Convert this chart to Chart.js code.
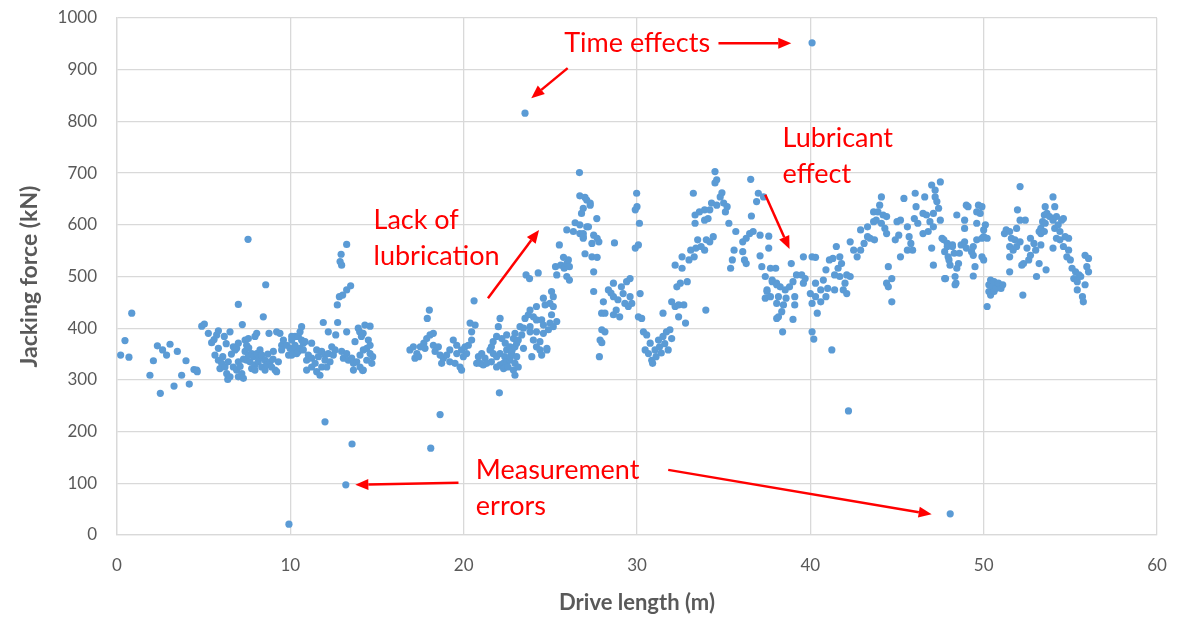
<!DOCTYPE html>
<html>
<head>
<meta charset="utf-8">
<script src="https://cdn.jsdelivr.net/npm/chart.js@4.4.0/dist/chart.umd.min.js"></script>
<style>
  html, body { margin: 0; padding: 0; background: #fff; }
  #wrap { width: 1178px; height: 620px; }
</style>
</head>
<body>
<div id="wrap"><canvas id="chart" width="1178" height="620"></canvas></div>
<script>
// drive length (m), jacking force (kN), grouped by stretch of the drive
const stretch0to10 = [
  [0.21,348],[0.46,376],[0.69,344],[0.85,429],[1.9,309],[2.1,337],[2.33,366],[2.5,274],[2.63,358],[2.86,348],
  [3.06,369],[3.29,288],[3.48,355],[3.73,309],[3.98,337],[4.17,292],[4.44,320],[4.6,319],[4.63,316],[4.89,404],
  [5.04,408],[5.27,390],[5.46,372],[5.6,378],[5.65,348],[5.75,387],[5.85,395],[5.85,361],[5.85,338],[5.94,322],
  [6.04,332],[6.1,345],[6.19,384],[6.23,325],[6.3,370],[6.33,312],[6.39,301],[6.42,335],[6.52,393],[6.52,306],
  [6.6,350],[6.71,364],[6.71,325],[6.81,358],[6.9,361],[6.9,319],[7.0,446],[7.0,371],[7.0,335],[7.0,306],
  [7.1,326],[7.2,312],[7.23,407],[7.29,303],[7.3,340],[7.39,377],[7.39,355],[7.48,367],[7.48,338],[7.56,572],
  [7.58,380],[7.58,348],[7.6,362],[7.67,335],[7.77,351],[7.77,322],[7.87,345],[7.96,384],[7.96,329],[7.96,319],
  [8.06,390],[8.06,351],[8.15,335],[8.2,342],[8.25,358],[8.35,348],[8.35,325],[8.44,422],[8.54,338],[8.54,319],
  [8.58,484],[8.63,329],[8.7,350],[8.77,390],[8.83,335],[8.92,325],[9.0,340],[9.02,355],[9.12,319],[9.21,393],
  [9.21,316],[9.31,335],[9.4,390],[9.5,367],[9.5,358],[9.6,377],[9.8,367],[9.9,348],[9.92,21],[9.98,361]
];
const stretch10to15 = [
  [10.08,377],[10.08,348],[10.08,384],[10.17,358],[10.17,351],[10.27,367],[10.27,384],[10.27,364],[10.37,351],[10.46,384],
  [10.46,355],[10.56,361],[10.56,393],[10.65,377],[10.65,403],[10.75,371],[10.75,358],[10.85,374],[10.94,338],[10.94,319],
  [11.04,348],[11.23,371],[11.23,342],[11.23,325],[11.43,332],[11.52,358],[11.52,316],[11.62,345],[11.71,309],[11.81,355],
  [11.81,325],[11.9,411],[12.0,348],[12.0,338],[12.0,219],[12.1,325],[12.19,393],[12.19,351],[12.29,335],[12.39,364],
  [12.48,348],[12.58,358],[12.62,387],[12.71,445],[12.73,411],[12.83,461],[12.87,529],[12.93,543],[12.96,522],[12.96,355],
  [13.02,464],[13.06,342],[13.2,97],[13.25,562],[13.25,474],[13.25,393],[13.25,351],[13.35,338],[13.48,482],[13.54,342],
  [13.56,176],[13.64,332],[13.64,319],[13.73,374],[13.83,335],[13.92,400],[14.0,393],[14.02,348],[14.02,325],[14.1,384],
  [14.17,318],[14.2,390],[14.21,358],[14.21,319],[14.3,406],[14.41,361],[14.41,338],[14.5,377],[14.6,404],[14.6,367],
  [14.6,351],[14.7,332],[14.75,345]
];
const stretch17to23 = [
  [16.9,358],[17.1,364],[17.19,342],[17.3,351],[17.4,345],[17.5,364],[17.7,371],[17.77,361],[17.87,380],[17.9,419],
  [18.02,435],[18.06,387],[18.1,168],[18.25,390],[18.25,367],[18.35,355],[18.54,364],[18.64,348],[18.64,233],[18.73,332],
  [18.83,342],[19.02,348],[19.2,358],[19.2,335],[19.4,377],[19.5,332],[19.6,367],[19.6,351],[19.79,325],[19.88,319],
  [19.88,358],[19.98,345],[20.08,364],[20.17,351],[20.27,367],[20.37,410],[20.46,377],[20.46,393],[20.6,453],[20.66,406],
  [20.75,332],[20.85,345],[20.94,332],[21.04,351],[21.13,329],[21.23,342],[21.33,332],[21.52,358],[21.6,335],[21.6,364],
  [21.7,374],[21.71,351],[21.9,384],[21.9,345],[21.9,325],[22.0,403],[22.06,275],[22.1,419],[22.1,351],[22.1,329],
  [22.2,380],[22.29,332],[22.3,322],[22.37,345],[22.4,371],[22.4,325],[22.48,387],[22.48,358],[22.5,335],[22.56,325],
  [22.67,364],[22.67,338],[22.7,345],[22.77,351],[22.8,358],[22.87,380],[22.87,319],[22.96,390],[22.96,364],[22.96,332],
  [22.96,309],[23.06,371],[23.06,345],[23.15,377],[23.15,325]
];
const stretch23to30 = [
  [23.25,403],[23.35,387],[23.45,400],[23.45,361],[23.54,816],[23.54,419],[23.6,503],[23.73,426],[23.8,496],[23.83,435],
  [23.83,403],[23.83,393],[23.93,345],[24.02,422],[24.02,377],[24.2,442],[24.2,416],[24.2,393],[24.2,364],[24.3,507],
  [24.4,374],[24.4,358],[24.5,416],[24.5,348],[24.6,458],[24.6,406],[24.6,390],[24.7,445],[24.8,358],[24.8,361],
  [24.89,397],[24.98,448],[24.98,410],[25.07,471],[25.07,426],[25.17,461],[25.17,442],[25.17,403],[25.3,519],[25.37,413],
  [25.37,503],[25.52,561],[25.6,522],[25.76,537],[25.8,516],[25.95,525],[25.95,590],[25.95,500],[26.1,519],[26.1,493],
  [26.04,532],[26.33,587],[26.43,604],[26.68,701],[26.7,656],[26.7,583],[26.7,600],[26.8,622],[26.9,632],[26.9,574],
  [26.9,583],[26.9,577],[27.0,653],[27.0,544],[27.1,648],[27.1,596],[27.2,596],[27.3,642],[27.3,638],[27.4,564],
  [27.4,538],[27.5,580],[27.5,509],[27.5,471],[27.68,612],[27.7,574],[27.7,537],[27.8,567],[27.83,345],[27.87,377],
  [27.96,429],[27.97,397],[27.97,372],[28.06,451],[28.15,429],[28.15,393],[28.35,474],[28.5,468],[28.64,487],[28.64,461],
  [28.64,426],[28.7,565],[28.8,435],[28.9,455],[29.0,422],[29.1,480],[29.2,467],[29.3,448],[29.4,490],[29.5,442],
  [29.6,496],[29.6,461],[29.7,448],[29.9,629],[29.9,555],[29.98,661],[30.0,635],[30.08,561],[30.08,422],[30.14,603],
  [30.18,467],[30.27,419]
];
const stretch30to37 = [
  [30.37,393],[30.47,358],[30.56,387],[30.66,351],[30.76,371],[30.85,338],[30.9,332],[31.04,358],[31.1,345],[31.24,377],
  [31.3,364],[31.4,352],[31.5,384],[31.5,429],[31.6,370],[31.7,393],[31.8,358],[31.9,397],[32.0,380],[32.0,451],
  [32.2,442],[32.2,522],[32.3,480],[32.4,445],[32.4,422],[32.5,487],[32.6,516],[32.6,538],[32.7,445],[32.8,410],
  [32.9,490],[33.0,532],[33.1,551],[33.25,661],[33.3,538],[33.35,603],[33.35,619],[33.4,555],[33.5,571],[33.6,625],
  [33.7,558],[33.9,551],[33.9,629],[33.9,609],[33.97,435],[34.0,571],[34.1,612],[34.2,567],[34.2,629],[34.3,642],
  [34.4,577],[34.5,703],[34.5,681],[34.6,687],[34.6,638],[34.8,654],[34.9,662],[35.0,642],[35.1,625],[35.2,635],
  [35.3,603],[35.4,516],[35.5,532],[35.6,551],[35.7,587],[36.1,567],[36.1,548],[36.2,532],[36.3,574],[36.3,525],
  [36.5,583],[36.56,688],[36.6,617],[36.7,587],[36.9,645],[37.0,661],[37.1,580],[37.1,540],[37.2,519],[37.3,654]
];
const stretch37to48 = [
  [37.4,500],[37.4,458],[37.5,474],[37.5,471],[37.6,578],[37.6,555],[37.7,516],[37.7,461],[37.8,490],[37.8,493],
  [38.0,516],[38.05,487],[38.06,484],[38.06,448],[38.06,419],[38.16,461],[38.16,422],[38.26,480],[38.35,432],[38.4,393],
  [38.45,445],[38.55,474],[38.6,458],[38.8,480],[38.9,525],[39.0,490],[39.0,417],[39.1,461],[39.1,445],[39.2,503],
  [39.5,503],[39.6,538],[39.6,487],[39.7,496],[40.0,467],[40.1,952],[40.1,538],[40.1,448],[40.1,393],[40.2,379],
  [40.3,537],[40.3,487],[40.3,461],[40.4,429],[40.6,474],[40.6,451],[40.75,493],[40.9,513],[40.9,461],[41.0,477],
  [41.1,532],[41.24,358],[41.3,535],[41.4,503],[41.4,474],[41.5,558],[41.6,516],[41.7,538],[41.7,500],[41.8,525],
  [41.9,474],[42.0,487],[42.1,503],[42.1,467],[42.2,240],[42.3,567],[42.3,500],[42.5,551],[42.7,538],[42.9,551],
  [42.9,590],[43.1,564],[43.3,577],[43.3,596],[43.45,574],[43.65,606],[43.65,625],[43.7,571],[43.8,609],[43.9,625],
  [44.0,638],[44.1,603],[44.1,654],[44.2,619],[44.3,593],[44.4,583],[44.4,616],[44.4,487],[44.5,519],[44.5,480],
  [44.7,496],[44.7,451],[44.9,571],[45.0,606],[45.1,580],[45.2,609],[45.2,538],[45.4,651],[45.6,596],[45.6,551],
  [45.7,577],[45.8,564],[45.9,551],[46.0,612],[46.05,661],[46.1,635],[46.2,603],[46.5,622],[46.5,583],[46.6,654],
  [46.7,619],[46.8,587],[46.9,606],[47.0,677],[47.0,555],[47.1,596],[47.1,622],[47.1,522],[47.2,654],[47.2,667],
  [47.3,645],[47.4,632],[47.5,609],[47.5,683],[47.6,574],[47.7,571],[47.75,548],[47.75,496],[47.8,496],[47.9,564],
  [47.9,558],[47.95,538],[48.0,532],[48.06,522],[48.07,41]
];
const stretch48to56 = [
  [48.2,561],[48.2,558],[48.3,545],[48.35,500],[48.35,484],[48.4,487],[48.45,619],[48.45,516],[48.55,525],[48.6,545],
  [48.7,561],[48.9,609],[48.9,593],[48.9,567],[49.0,638],[49.0,555],[49.1,635],[49.3,548],[49.4,558],[49.4,541],
  [49.4,501],[49.5,519],[49.6,625],[49.6,603],[49.6,571],[49.7,638],[49.8,622],[49.9,635],[49.9,574],[49.9,538],
  [50.0,590],[50.0,577],[50.0,532],[50.1,600],[50.2,574],[50.2,442],[50.3,484],[50.3,471],[50.4,493],[50.4,464],
  [50.5,480],[50.6,490],[50.6,471],[50.7,477],[50.85,487],[51.0,477],[51.1,484],[51.2,583],[51.3,590],[51.5,587],
  [51.5,558],[51.5,538],[51.5,509],[51.6,574],[51.7,551],[51.8,571],[51.9,558],[51.9,593],[51.95,629],[52.1,567],
  [52.1,609],[52.1,674],[52.2,522],[52.26,464],[52.3,525],[52.4,609],[52.5,555],[52.6,532],[52.7,541],[52.7,574],
  [52.9,564],[53.0,551],[53.05,500],[53.2,525],[53.2,587],[53.3,583],[53.3,561],[53.3,593],[53.4,606],[53.5,587],
  [53.5,619],[53.55,603],[53.55,635],[53.6,513],[53.65,622],[53.8,616],[54.0,654],[54.0,609],[54.0,555],[54.1,635],
  [54.1,593],[54.2,616],[54.2,574],[54.3,600],[54.4,587],[54.4,571],[54.5,609],[54.6,612],[54.6,558],[54.7,577],
  [54.8,538],[54.9,574],[54.9,551],[55.0,532],[55.1,516],[55.2,496],[55.3,509],[55.4,490],[55.4,474],[55.5,503],
  [55.6,500],[55.7,461],[55.75,451],[55.85,484],[55.85,541],[55.95,519],[56.05,535],[56.05,509]
];

const yTicks = [0, 100, 200, 300, 400, 500, 600, 700, 800, 900, 1000];
const xTicks = [0, 10, 20, 30, 40, 50, 60];

// red callouts, anchored in data units
const notes = [
  { lines: ['Time effects'], x: 25.8, y: 951 },
  { lines: ['Lubricant', 'effect'], x: 38.4, y: 768 },
  { lines: ['Lack of', 'lubrication'], x: 14.8, y: 609 },
  { lines: ['Measurement', 'errors'], x: 20.7, y: 126 }
];
const arrows = [
  [34.7, 951, 38.9, 951],
  [26.0, 903, 23.9, 845],
  [37.4, 658, 38.8, 553],
  [21.4, 458, 24.35, 590],
  [19.7, 101, 13.75, 97],
  [31.8, 126, 47.0, 40]
];

const points = [].concat(stretch0to10, stretch10to15, stretch17to23, stretch23to30,
  stretch30to37, stretch37to48, stretch48to56).map(p => ({ x: p[0], y: p[1] }));

const FONT = 'Lato, "Open Sans", sans-serif';
const GREY = '#595959';

const calloutPlugin = {
  id: 'callouts',
  afterDatasetsDraw(chart) {
    const ctx = chart.ctx;
    const xs = chart.scales.x, ys = chart.scales.y;
    ctx.save();
    ctx.fillStyle = '#ff0000';
    ctx.strokeStyle = '#ff0000';
    ctx.font = '27px ' + FONT;
    ctx.textBaseline = 'middle';
    ctx.textAlign = 'left';
    notes.forEach(n => {
      const px = xs.getPixelForValue(n.x);
      const py = ys.getPixelForValue(n.y);
      n.lines.forEach((t, i) => ctx.fillText(t, px, py + i * 36));
    });
    ctx.lineWidth = 2.5;
    arrows.forEach(a => {
      const x1 = xs.getPixelForValue(a[0]), y1 = ys.getPixelForValue(a[1]);
      const x2 = xs.getPixelForValue(a[2]), y2 = ys.getPixelForValue(a[3]);
      const ang = Math.atan2(y2 - y1, x2 - x1);
      const len = 13, half = 5.5;
      const bx = x2 - len * Math.cos(ang), by = y2 - len * Math.sin(ang);
      ctx.beginPath();
      ctx.moveTo(x1, y1);
      ctx.lineTo(bx, by);
      ctx.stroke();
      ctx.beginPath();
      ctx.moveTo(x2, y2);
      ctx.lineTo(bx + half * Math.sin(ang), by - half * Math.cos(ang));
      ctx.lineTo(bx - half * Math.sin(ang), by + half * Math.cos(ang));
      ctx.closePath();
      ctx.fill();
    });
    ctx.restore();
  }
};

new Chart(document.getElementById('chart'), {
  type: 'scatter',
  data: {
    datasets: [{
      data: points,
      backgroundColor: '#5b9bd5',
      borderWidth: 0,
      pointRadius: 3.6,
      pointHoverRadius: 3.6
    }]
  },
  options: {
    responsive: false,
    animation: false,
    layout: { padding: { top: 18, right: 21, left: 12, bottom: 0 } },
    plugins: { legend: { display: false }, tooltip: { enabled: false } },
    scales: {
      x: {
        type: 'linear', min: 0, max: 60,
        afterBuildTicks: s => { s.ticks = xTicks.map(v => ({ value: v })); },
        grid: { color: '#d9d9d9', lineWidth: 1.3, drawTicks: false },
        border: { color: '#d9d9d9', width: 1.3 },
        ticks: { color: GREY, font: { family: FONT, size: 17 }, padding: 20 },
        title: { display: true, text: 'Drive length (m)', color: GREY,
                 font: { family: FONT, size: 22, weight: 'bold' }, padding: { top: 16 } },
        afterFit: s => { s.height = 85; s.paddingLeft = 0; s.paddingRight = 0; }
      },
      y: {
        type: 'linear', min: 0, max: 1000,
        afterBuildTicks: s => { s.ticks = yTicks.map(v => ({ value: v })); },
        grid: { color: '#d9d9d9', lineWidth: 1.3, drawTicks: false },
        border: { color: '#d9d9d9', width: 1.3 },
        ticks: { color: GREY, font: { family: FONT, size: 17 }, padding: 20,
                 callback: v => String(v) },
        title: { display: true, text: 'Jacking force (kN)', color: GREY,
                 font: { family: FONT, size: 23, weight: 'bold' }, padding: { bottom: 14 } },
        afterFit: s => { s.width = 105; s.paddingTop = 0; s.paddingBottom = 0; }
      }
    }
  },
  plugins: [calloutPlugin]
});
</script>
</body>
</html>
